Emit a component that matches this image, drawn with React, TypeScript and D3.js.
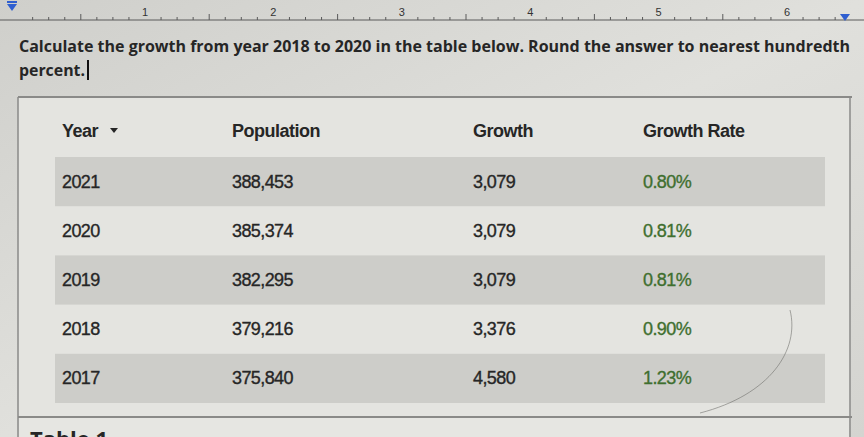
import { useMemo } from 'react'
import * as d3 from 'd3'

// table content
const headers = ['Year', 'Population', 'Growth', 'Growth Rate']
const years = ['2021', '2020', '2019', '2018', '2017']
const population = ['388,453', '385,374', '382,295', '379,216', '375,840']
const growth = ['3,079', '3,079', '3,079', '3,376', '4,580']
const growthRate = ['0.80%', '0.81%', '0.81%', '0.90%', '1.23%']
const rulerInches = [1, 2, 3, 4, 5, 6]

const question = 'Calculate the growth from year 2018 to 2020 in the table below. Round the answer to nearest hundredth'
const question2 = 'percent.'

export default function App() {
  const W = 864, H = 437

  const C = {
    stripe: '#cdcdc9',
    frame: '#8a8a88',
    text: '#262626',
    green: '#3f6f2f',
    ruler: '#5a5a5a',
    blue: '#2f5fd0',
  }

  const ruler = d3.scaleLinear().domain([1, 6]).range([145, 787])
  const rulerTicks = d3.range(0, 6.75, 0.125)

  const cols = d3.scaleOrdinal<string, number>().domain(headers).range([62, 232, 473, 643])
  const rows = d3.scaleBand<string>().domain(years).range([157, 403]).paddingInner(0)

  const cells = useMemo(() => years.map((y, i) => [y, population[i], growth[i], growthRate[i]]), [])

  const font = '"Liberation Sans", Arial, sans-serif'

  return (
    <svg width={W} height={H} style={{ position: 'absolute', left: 0, top: 0, display: 'block' }}>
      <defs>
        <linearGradient id="shade" x1="0" x2="1" y1="0" y2="1">
          <stop offset="0" stopColor="#cfcfcb" />
          <stop offset="0.5" stopColor="#e0e0dc" />
          <stop offset="1" stopColor="#d4d4d0" />
        </linearGradient>
      </defs>
      <rect width={W} height={H} fill="url(#shade)" />

      {/* ruler */}
      <line x1={0} x2={W} y1={20} y2={20} stroke={C.ruler} strokeWidth={1} />
      {rulerTicks.map(t => {
        const x = ruler(t)
        if (x < 0 || x > 842) return null
        const whole = Math.abs(t - Math.round(t)) < 1e-6
        const half = Math.abs(t * 2 - Math.round(t * 2)) < 1e-6
        if (whole) return null
        const len = half ? 6 : 3
        return <line key={t} x1={x} x2={x} y1={20 - len} y2={20} stroke={C.ruler} strokeWidth={1} />
      })}
      {rulerInches.map(n => (
        <text key={n} x={ruler(n)} y={16} textAnchor="middle" fontFamily={font} fontSize={11} fill="#333">{n}</text>
      ))}
      <path d="M7,4 L17,4 L12,11 Z" fill={C.blue} />
      <rect x={7} y={1} width={10} height={2} fill={C.blue} />
      <path d="M840,14 L850,14 L845,21 Z" fill={C.blue} />

      {/* question */}
      <text x={19} y={52} fontFamily='"Open Sans", sans-serif' fontWeight={700} fontSize={16}
        fill={C.text} textLength={831} lengthAdjust="spacingAndGlyphs">{question}</text>
      <text x={19} y={76} fontFamily='"Open Sans", sans-serif' fontWeight={700} fontSize={16}
        fill={C.text} textLength={66} lengthAdjust="spacingAndGlyphs">{question2}</text>
      <line x1={88} x2={88} y1={60} y2={80} stroke="#111" strokeWidth={2} />

      {/* table frame */}
      <rect x={18} y={97} width={832} height={320} fill="#e4e4e0" stroke="none" />
      <line x1={18} x2={852} y1={97} y2={97} stroke={C.frame} strokeWidth={2} />
      <line x1={18} x2={18} y1={97} y2={437} stroke={C.frame} strokeWidth={1.5} />
      <line x1={850} x2={850} y1={97} y2={437} stroke={C.frame} strokeWidth={1.5} />
      <line x1={18} x2={852} y1={417} y2={417} stroke={C.frame} strokeWidth={2} />
      <rect x={19} y={418} width={830} height={19} fill="#e6e6e2" />
      <text x={30} y={447} fontFamily='"Open Sans", sans-serif' fontWeight={700} fontSize={22} fill={C.text}>Table 1</text>

      {/* stripes */}
      {years.map((y, i) => i % 2 === 0 ? (
        <rect key={y} x={55} y={rows(y)} width={770} height={rows.bandwidth()} fill={C.stripe} />
      ) : null)}

      {/* header */}
      {headers.map(h => (
        <text key={h} x={cols(h)} y={137} fontFamily={font} fontWeight={700} fontSize={18} fill={C.text}
          style={{ letterSpacing: '-0.5px' }}>{h}</text>
      ))}
      <path d="M110,128 L118,128 L114,133 Z" fill={C.text} />

      {/* body */}
      {cells.map((row, i) => row.map((v, j) => (
        <text key={`${i}-${j}`} x={cols(headers[j])} y={(rows(years[i]) ?? 0) + rows.bandwidth() / 2 + 6}
          fontFamily={font} fontSize={18} fill={j === 3 ? C.green : C.text}
          stroke={j === 3 ? C.green : C.text} strokeWidth={0.35}
          style={{ letterSpacing: '-0.6px' }}>{v}</text>
      )))}

      {/* pen stroke over the screen */}
      <path d="M790,310 C800,350 770,395 700,413" fill="none" stroke="#6a6a66" strokeWidth={0.8} opacity={0.7} />
    </svg>
  )
}
